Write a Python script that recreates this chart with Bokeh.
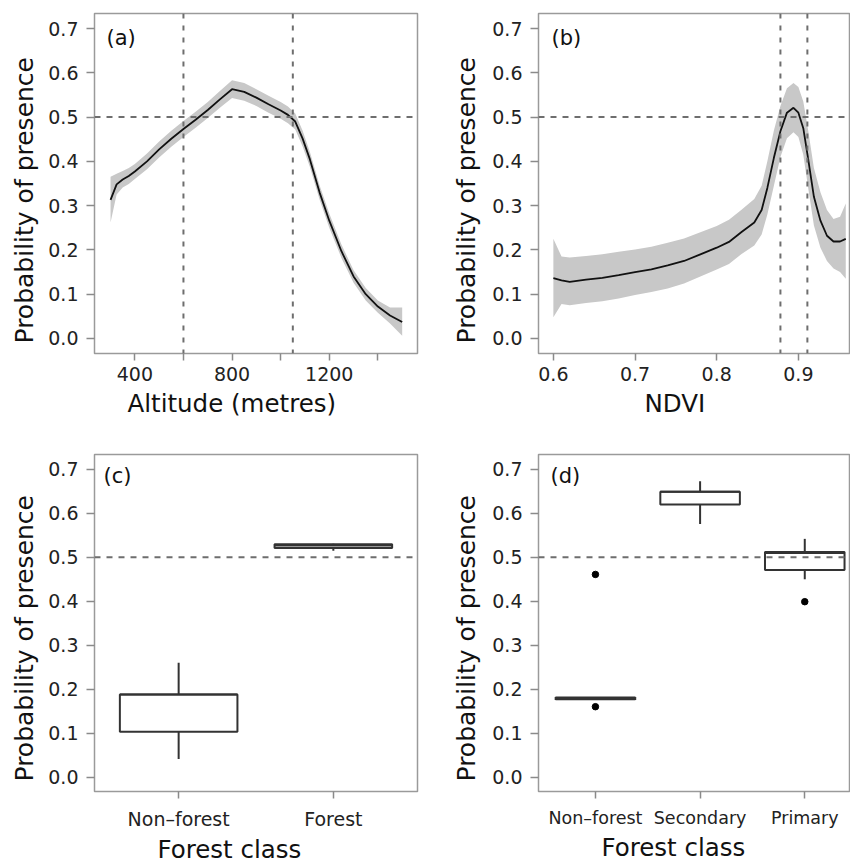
import math
from bokeh.plotting import figure
from bokeh.models import (ColumnDataSource, Span, Label, FixedTicker, PrintfTickFormatter,
                          Range1d, Title)
from bokeh.layouts import column, row
from bokeh.embed import file_html
from bokeh.resources import INLINE

# ---------------- data ----------------
y_ticks = [0.0, 0.1, 0.2, 0.3, 0.4, 0.5, 0.6, 0.7]
threshold = 0.5

# (a) altitude response
alt = [300, 325, 350, 375, 400, 450, 500, 550, 600, 650, 700, 750, 800, 850, 900,
       950, 1000, 1030, 1060, 1090, 1120, 1160, 1200, 1250, 1300, 1350, 1400, 1450, 1500]
alt_mean = [0.313, 0.348, 0.359, 0.367, 0.377, 0.400, 0.427, 0.451, 0.473, 0.494, 0.516, 0.540,
            0.563, 0.557, 0.544, 0.529, 0.515, 0.505, 0.490, 0.452, 0.405, 0.330, 0.266, 0.197,
            0.140, 0.100, 0.072, 0.052, 0.037]
alt_upper = [0.365, 0.372, 0.378, 0.385, 0.394, 0.418, 0.445, 0.469, 0.491, 0.512, 0.534, 0.559,
             0.583, 0.577, 0.563, 0.548, 0.534, 0.524, 0.508, 0.470, 0.422, 0.346, 0.282, 0.212,
             0.154, 0.114, 0.086, 0.070, 0.070]
alt_lower = [0.262, 0.325, 0.341, 0.349, 0.360, 0.382, 0.409, 0.433, 0.455, 0.476, 0.498, 0.521,
             0.543, 0.537, 0.525, 0.510, 0.496, 0.486, 0.472, 0.434, 0.388, 0.314, 0.250, 0.182,
             0.126, 0.086, 0.058, 0.034, 0.006]
alt_ticks = [400, 600, 800, 1000, 1200, 1400]
alt_tick_labels = {400: "400", 600: "", 800: "800", 1000: "", 1200: "1200", 1400: ""}
alt_vlines = [600, 1050]

# (b) NDVI response
ndvi = [0.600, 0.610, 0.620, 0.640, 0.660, 0.680, 0.700, 0.720, 0.740, 0.760, 0.780, 0.800,
        0.815, 0.830, 0.846, 0.855, 0.862, 0.870, 0.878, 0.886, 0.894, 0.900, 0.906, 0.912,
        0.919, 0.927, 0.935, 0.943, 0.951, 0.958]
ndvi_mean = [0.136, 0.131, 0.128, 0.133, 0.137, 0.143, 0.150, 0.156, 0.165, 0.175, 0.190, 0.205,
             0.218, 0.240, 0.262, 0.290, 0.340, 0.408, 0.468, 0.510, 0.521, 0.510, 0.475, 0.405,
             0.320, 0.266, 0.232, 0.219, 0.219, 0.225]
ndvi_upper = [0.225, 0.185, 0.183, 0.186, 0.190, 0.196, 0.201, 0.207, 0.216, 0.226, 0.240, 0.254,
              0.268, 0.290, 0.315, 0.345, 0.400, 0.470, 0.525, 0.565, 0.577, 0.568, 0.535, 0.470,
              0.385, 0.330, 0.290, 0.270, 0.275, 0.305]
ndvi_lower = [0.048, 0.078, 0.075, 0.080, 0.084, 0.090, 0.098, 0.105, 0.113, 0.124, 0.140, 0.156,
              0.168, 0.190, 0.210, 0.235, 0.280, 0.345, 0.410, 0.452, 0.466, 0.455, 0.415, 0.340,
              0.255, 0.205, 0.175, 0.158, 0.150, 0.135]
ndvi_ticks = [0.6, 0.7, 0.8, 0.9]
ndvi_vlines = [0.878, 0.911]

# (c) two forest classes
c_classes = ["Non\u2013forest", "Forest"]
c_pos = [1, 2]
c_lo = [0.041, 0.515]
c_q1 = [0.103, 0.521]
c_med = [0.188, 0.527]
c_q3 = [0.188, 0.530]
c_hi = [0.260, 0.531]

# (d) three forest classes
d_classes = ["Non\u2013forest", "Secondary", "Primary"]
d_pos = [1, 2, 3]
d_lo = [0.177, 0.576, 0.450]
d_q1 = [0.177, 0.620, 0.471]
d_med = [0.179, 0.649, 0.510]
d_q3 = [0.181, 0.649, 0.512]
d_hi = [0.181, 0.673, 0.542]
d_out_pos = [1, 1, 3]
d_out_val = [0.461, 0.160, 0.399]

# ---------------- styling ----------------
FONT = "DejaVu Sans"
FRAME = "#9a9a9a"
DASH_COL = "#6e6e6e"
BOX_HALF = 0.38
YLABEL = "Probability of presence"


def base_fig(width, height, left, right, top, bottom, xr, yr):
    p = figure(width=width, height=height, x_range=Range1d(*xr), y_range=Range1d(*yr),
               output_backend="svg", toolbar_location=None,
               min_border_left=left, min_border_right=right,
               min_border_top=top, min_border_bottom=bottom)
    p.grid.visible = False
    p.outline_line_color = FRAME
    p.outline_line_width = 1.5
    p.background_fill_color = "white"
    p.border_fill_color = "white"
    for ax in (p.xaxis[0], p.yaxis[0]):
        ax.axis_line_color = None
        ax.major_tick_line_color = "#8a8a8a"
        ax.major_tick_line_width = 1.5
        ax.major_tick_in = 0
        ax.minor_tick_line_color = None
        ax.major_label_text_font = FONT
        ax.major_label_text_font_size = "19px"
        ax.major_label_text_color = "#222222"
    p.yaxis.ticker = FixedTicker(ticks=y_ticks)
    p.yaxis.formatter = PrintfTickFormatter(format="%.1f")
    p.yaxis.major_label_standoff = 8
    p.yaxis.major_tick_out = 8
    p.xaxis.major_label_standoff = 6
    p.xaxis.major_tick_out = 7
    return p


def add_axis_titles(p, xlabel, x_offset, x_standoff, y_standoff):
    p.add_layout(Title(text=xlabel, align="left", vertical_align="top", offset=x_offset,
                       standoff=x_standoff, text_font=FONT, text_font_size="24.5px",
                       text_font_style="normal", text_color="#111111"), "below")
    p.add_layout(Title(text=YLABEL, align="left", vertical_align="bottom", offset=10,
                       standoff=y_standoff, text_font=FONT, text_font_size="25px",
                       text_font_style="normal", text_color="#111111"), "left")


def add_tag(p, tag, tag_x):
    p.add_layout(Label(x=tag_x, y=315.7, x_units="screen", y_units="screen", text=tag,
                       text_font=FONT, text_font_size="21px", text_color="#111111",
                       text_baseline="alphabetic", text_align="left"))


def hline(p):
    p.add_layout(Span(location=threshold, dimension="width", line_color=DASH_COL,
                      line_width=2, line_dash="6 6"))


def vlines(p, locs):
    for loc in locs:
        p.add_layout(Span(location=loc, dimension="height", line_color=DASH_COL,
                          line_width=2, line_dash="5 7"))


YR = (-0.034, 0.734)

# ---- (a)
pa = base_fig(440, 430, 92, 23, 13, 77, (234, 1563), YR)
pa.xaxis.ticker = FixedTicker(ticks=alt_ticks)
pa.xaxis.major_label_overrides = alt_tick_labels
src_a = ColumnDataSource(dict(x=alt, y=alt_mean, lo=alt_lower, hi=alt_upper))
pa.varea(x="x", y1="lo", y2="hi", source=src_a, fill_color="#c8c8c8")
pa.line(x="x", y="y", source=src_a, line_color="#111111", line_width=1.8)
hline(pa)
vlines(pa, alt_vlines)
add_tag(pa, "(a)", 12)
add_axis_titles(pa, "Altitude (metres)", 33, 10, 14)

# ---- (b)
pb = base_fig(410, 430, 96, 0, 13, 77, (0.5818, 0.9638), YR)
pb.xaxis.ticker = FixedTicker(ticks=ndvi_ticks)
pb.xaxis.formatter = PrintfTickFormatter(format="%.1f")
src_b = ColumnDataSource(dict(x=ndvi, y=ndvi_mean, lo=ndvi_lower, hi=ndvi_upper))
pb.varea(x="x", y1="lo", y2="hi", source=src_b, fill_color="#c8c8c8")
pb.line(x="x", y="y", source=src_b, line_color="#111111", line_width=1.8)
hline(pb)
vlines(pb, ndvi_vlines)
add_tag(pb, "(b)", 13)
add_axis_titles(pb, "NDVI", 106, 10, 18)


def boxes(p, pos, lo, q1, med, q3, hi):
    src = ColumnDataSource(dict(x=pos, lo=lo, q1=q1, med=med, q3=q3, hi=hi,
                                x0=[v - BOX_HALF for v in pos], x1=[v + BOX_HALF for v in pos]))
    p.segment(x0="x", y0="q3", x1="x", y1="hi", source=src, line_color="#333333", line_width=2)
    p.segment(x0="x", y0="q1", x1="x", y1="lo", source=src, line_color="#333333", line_width=2)
    p.vbar(x="x", width=2 * BOX_HALF, bottom="q1", top="q3", source=src,
           fill_color="white", line_color="#333333", line_width=2)
    p.segment(x0="x0", y0="med", x1="x1", y1="med", source=src, line_color="#333333", line_width=2)


YR2 = (-0.033, 0.734)

# ---- (c)
pc = base_fig(440, 437, 92, 23, 24, 74, (0.456, 2.544), YR2)
pc.xaxis.ticker = FixedTicker(ticks=c_pos)
pc.xaxis.major_label_overrides = {p_: l for p_, l in zip(c_pos, c_classes)}
pc.xaxis.major_label_standoff = 9
boxes(pc, c_pos, c_lo, c_q1, c_med, c_q3, c_hi)
hline(pc)
add_tag(pc, "(c)", 9)
add_axis_titles(pc, "Forest class", 63, 4, 14)

# ---- (d)
pd_ = base_fig(410, 437, 96, 0, 24, 74, (0.456, 3.437), YR2)
pd_.xaxis.ticker = FixedTicker(ticks=d_pos)
pd_.xaxis.major_label_overrides = {p_: l for p_, l in zip(d_pos, d_classes)}
pd_.xaxis.major_label_text_font_size = "17.5px"
pd_.xaxis.major_label_standoff = 9
boxes(pd_, d_pos, d_lo, d_q1, d_med, d_q3, d_hi)
pd_.scatter(x=d_out_pos, y=d_out_val, size=6.5, color="#000000")
hline(pd_)
add_tag(pd_, "(d)", 12)
add_axis_titles(pd_, "Forest class", 63, 4, 18)

layout = column(row(pa, pb), row(pc, pd_))
open("out.html", "w").write(file_html(layout, INLINE))
